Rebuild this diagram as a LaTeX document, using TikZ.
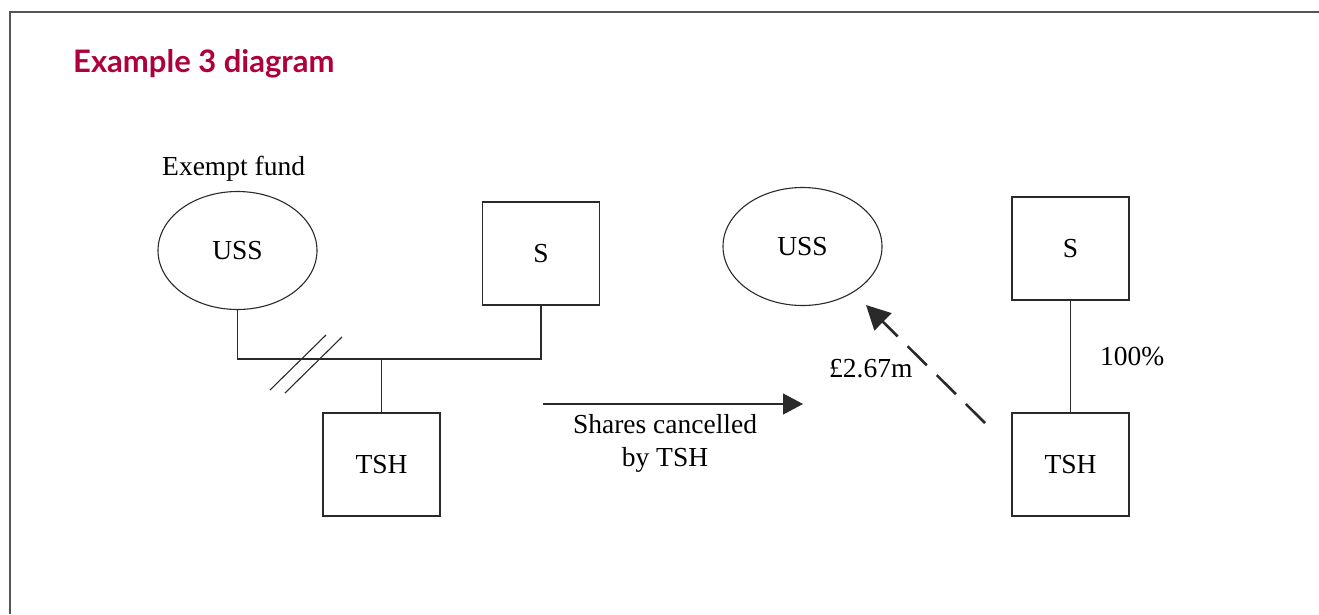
\documentclass[tikz,border=0pt]{standalone}
\usepackage{fontspec}
\setmainfont{Liberation Serif}
\newfontfamily\titlefont{Lato}
\usetikzlibrary{shapes.geometric,arrows.meta}
\definecolor{titlered}{HTML}{B0003A}
\definecolor{framegray}{HTML}{555555}
\definecolor{inkgray}{HTML}{2A2A2A}
\tikzset{
  txt/.style={font=\fontsize{27.5}{33}\selectfont},
  entbox/.style={draw=inkgray, line width=1.1pt, minimum width=117pt, minimum height=103pt, inner sep=0pt, txt},
  entell/.style={draw=inkgray, line width=1.1pt, ellipse, minimum width=159pt, minimum height=118pt, inner sep=0pt, txt},
  link/.style={draw=inkgray, line width=1.1pt},
  lbl/.style={txt, inner sep=0pt},
}
\begin{document}
\begin{tikzpicture}[x=1pt,y=-1pt]
\useasboundingbox (0,0) rectangle (1319,614);
% frame
\draw[framegray, line width=1.8pt] (10,614) -- (10,12) -- (1319,12);
% title
\node[anchor=base west, inner sep=0pt, text=titlered, font=\titlefont\bfseries\fontsize{31}{36}\selectfont] (title) at (73,72) {Example 3 diagram};
% left group
\node[lbl, anchor=base west] (exempt) at (162,175) {Exempt fund};
\node[entell] (uss1) at (237.5,250.5) {USS};
\node[entbox] (s1) at (541,253.5) {S};
\node[entbox] (tsh1) at (381.5,464.5) {TSH};
\coordinate (j) at (381.5,359);
\draw[link] (uss1.south) |- (j) -| (s1.south);
\draw[link] (j) -- (tsh1.north);
\coordinate (c1a) at (270,390); \coordinate (c1b) at (326,335);
\coordinate (c2a) at (285,393); \coordinate (c2b) at (342,337);
\draw[link] (c1a) -- (c1b);
\draw[link] (c2a) -- (c2b);
% middle arrow
\coordinate (a1) at (543,404);
\coordinate (a2) at (803,404);
\draw[link, -{Triangle[length=20pt, width=21pt]}] (a1) -- (a2);
\node[lbl, align=center, anchor=north] (shares) at (665,414) {Shares cancelled\\by TSH};
% right group
\node[entell] (uss2) at (802.5,246.5) {USS};
\node[entbox] (s2) at (1070.5,248.5) {S};
\node[entbox] (tsh2) at (1070.5,464.5) {TSH};
\draw[link] (s2) -- (tsh2);
\node[lbl, anchor=base west] (pct) at (1100,365) {100\%};
\coordinate (d1) at (985,423);
\coordinate (d2) at (866,305);
\draw[inkgray, line width=2.6pt, dash pattern=on 27pt off 14pt, -{Triangle[length=24pt, width=24pt]}] (d1) -- (d2);
\node[lbl, anchor=base west] (amt) at (829,377) {£2.67m};
\end{tikzpicture}
\end{document}
